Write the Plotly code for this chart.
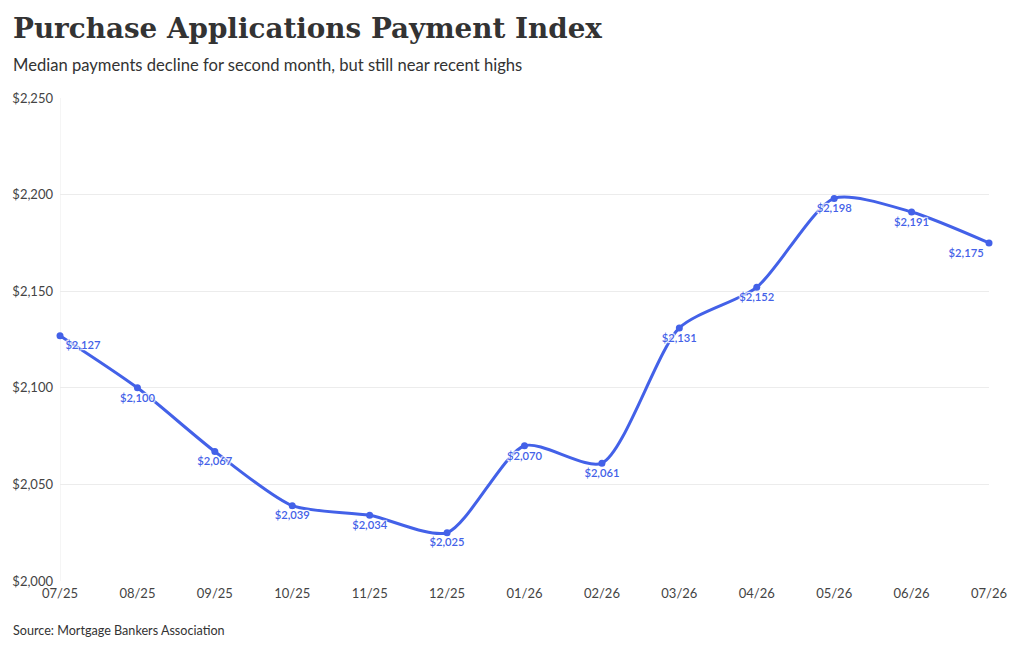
#!/usr/bin/env python3
"""Purchase Applications Payment Index — 월별 중위 상환액 라인 차트."""
import plotly.graph_objects as go

MONTHS = ["07/25", "08/25", "09/25", "10/25", "11/25", "12/25", "01/26",
          "02/26", "03/26", "04/26", "05/26", "06/26", "07/26"]
PAYMENTS = [2127, 2100, 2067, 2039, 2034, 2025, 2070, 2061, 2131, 2152, 2198, 2191, 2175]
Y_TICKS = [2000, 2050, 2100, 2150, 2200, 2250]

BLUE = "#4361e8"

# 양 끝 라벨은 플롯 안쪽으로
positions = ["bottom center"] * len(MONTHS)
positions[0] = "bottom right"
positions[-1] = "bottom left"

fig = go.Figure()
fig.add_trace(go.Scatter(
    x=MONTHS, y=PAYMENTS, mode="lines+markers+text",
    line=dict(color=BLUE, width=3, shape="spline", smoothing=0.7),
    marker=dict(color=BLUE, size=7),
    text=[f"${v:,}" for v in PAYMENTS], textposition=positions,
    textfont=dict(family="Lato", size=11.2, color=BLUE, weight=600,
                  shadow="1px 1px 1px white, -1px -1px 1px white, 1px -1px 1px white, -1px 1px 1px white"),
    hoverinfo="x+y", showlegend=False, cliponaxis=False,
))

# 페이지 body 여백(8px)만큼 보정한 마진
fig.update_layout(
    width=1020, height=648, template="plotly_white",
    margin=dict(l=52, r=39, t=90, b=75),
    font=dict(family="Lato", color="#333333"),
    plot_bgcolor="white", paper_bgcolor="white",
)
fig.update_xaxes(showgrid=False, range=[0, 12], tickfont=dict(size=13, color="#444"),
                 showline=False, zeroline=False, ticks="", ticklabelstandoff=3,
                 automargin=False)
fig.update_yaxes(range=[2000, 2250], tickvals=Y_TICKS,
                 ticktext=[f"${v:,}" for v in Y_TICKS],
                 tickfont=dict(size=13, color="#444"), gridcolor="#ececec",
                 zeroline=False, showline=False, ticks="", ticklabelstandoff=6,
                 automargin=False)

fig.add_shape(type="line", xref="x", yref="paper", x0=0, x1=0, y0=0, y1=1,
              line=dict(color="#ececec", width=1), layer="below")

fig.add_annotation(text="<b>Purchase Applications Payment Index</b>", xref="paper", yref="paper",
                   x=0, y=1, xanchor="left", yanchor="middle", xshift=-49, yshift=70,
                   showarrow=False, font=dict(family="DejaVu Serif", size=27.8, color="#333333"))
fig.add_annotation(text="Median payments decline for second month, but still near recent highs",
                   xref="paper", yref="paper", x=0, y=1, xanchor="left", yanchor="middle",
                   xshift=-49, yshift=33, showarrow=False,
                   font=dict(family="Lato", size=16.6, color="#333333"))
fig.add_annotation(text="Source: Mortgage Bankers Association", xref="paper", yref="paper",
                   x=0, y=0, xanchor="left", yanchor="middle", xshift=-49, yshift=-49,
                   showarrow=False, font=dict(family="Lato", size=12.6, color="#333333"))

fig.write_html("out.html")
